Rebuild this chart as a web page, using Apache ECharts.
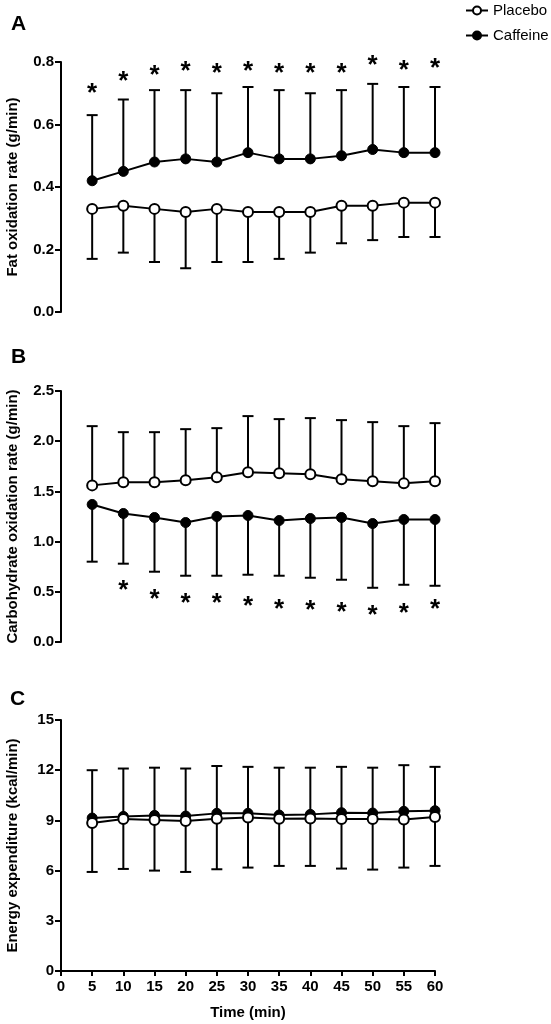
<!DOCTYPE html>
<html>
<head>
<meta charset="utf-8">
<script src="https://cdn.jsdelivr.net/npm/echarts@6/dist/echarts.min.js"></script>
<style>
  html, body { margin: 0; padding: 0; background: #fff; }
  #chart { width: 551px; height: 1024px; }
</style>
</head>
<body>
<div id="chart"></div>
<script>
// time points (min)
var time = [5, 10, 15, 20, 25, 30, 35, 40, 45, 50, 55, 60];

// A - fat oxidation (g/min)
var fatPlacebo      = [0.33, 0.34, 0.33, 0.32, 0.33, 0.32, 0.32, 0.32, 0.34, 0.34, 0.35, 0.35];
var fatPlaceboLow   = [0.17, 0.19, 0.16, 0.14, 0.16, 0.16, 0.17, 0.19, 0.22, 0.23, 0.24, 0.24];
var fatCaffeine     = [0.42, 0.45, 0.48, 0.49, 0.48, 0.51, 0.49, 0.49, 0.50, 0.52, 0.51, 0.51];
var fatCaffeineHigh = [0.63, 0.68, 0.71, 0.71, 0.70, 0.72, 0.71, 0.70, 0.71, 0.73, 0.72, 0.72];
var fatStar         = [0.71, 0.75, 0.77, 0.78, 0.775, 0.78, 0.775, 0.775, 0.775, 0.80, 0.785, 0.79];

// B - carbohydrate oxidation (g/min)
var choPlacebo      = [1.56, 1.59, 1.59, 1.61, 1.64, 1.69, 1.68, 1.67, 1.62, 1.60, 1.58, 1.60];
var choPlaceboHigh  = [2.15, 2.09, 2.09, 2.12, 2.13, 2.25, 2.22, 2.23, 2.21, 2.19, 2.15, 2.18];
var choCaffeine     = [1.37, 1.28, 1.24, 1.19, 1.25, 1.26, 1.21, 1.23, 1.24, 1.18, 1.22, 1.22];
var choCaffeineLow  = [0.80, 0.78, 0.70, 0.66, 0.66, 0.67, 0.66, 0.64, 0.62, 0.54, 0.57, 0.56];
var choStar         = [null, 0.55, 0.46, 0.42, 0.42, 0.39, 0.36, 0.35, 0.33, 0.30, 0.32, 0.36];

// C - energy expenditure (kcal/min)
var eePlacebo       = [8.84, 9.08, 9.02, 8.96, 9.10, 9.18, 9.10, 9.12, 9.08, 9.08, 9.06, 9.20];
var eePlaceboLow    = [5.92, 6.10, 6.00, 5.92, 6.08, 6.18, 6.28, 6.28, 6.12, 6.06, 6.18, 6.28];
var eeCaffeine      = [9.14, 9.24, 9.30, 9.26, 9.42, 9.42, 9.32, 9.36, 9.46, 9.44, 9.54, 9.58];
var eeCaffeineHigh  = [12.0, 12.1, 12.15, 12.1, 12.25, 12.2, 12.15, 12.15, 12.2, 12.15, 12.3, 12.2];

var font = "'Liberation Sans', Arial, Helvetica, sans-serif";
var chart = echarts.init(document.getElementById('chart'));

function pairs(ys) {
    return time.map(function (t, i) { return [t, ys[i]]; });
}

// error bar: line from mean to end plus a cap
function errorBars(idx, mean, end) {
    return {
        type: 'custom',
        xAxisIndex: idx,
        yAxisIndex: idx,
        z: 1,
        silent: true,
        data: time.map(function (t, i) { return [t, mean[i], end[i]]; }),
        renderItem: function (params, api) {
            var p0 = api.coord([api.value(0), api.value(1)]);
            var p1 = api.coord([api.value(0), api.value(2)]);
            var style = { stroke: '#000', lineWidth: 2 };
            return {
                type: 'group',
                children: [
                    { type: 'line', shape: { x1: p0[0], y1: p0[1], x2: p1[0], y2: p1[1] }, style: style },
                    { type: 'line', shape: { x1: p1[0] - 5.5, y1: p1[1], x2: p1[0] + 5.5, y2: p1[1] }, style: style }
                ]
            };
        }
    };
}

function stars(idx, ys) {
    return {
        type: 'custom',
        xAxisIndex: idx,
        yAxisIndex: idx,
        silent: true,
        data: time.map(function (t, i) { return ys[i] == null ? null : [t, ys[i]]; }).filter(Boolean),
        renderItem: function (params, api) {
            var p = api.coord([api.value(0), api.value(1)]);
            return {
                type: 'text',
                x: p[0],
                y: p[1] + 4,
                style: {
                    text: '*',
                    fill: '#000',
                    font: 'bold 26px ' + font,
                    textAlign: 'center',
                    textVerticalAlign: 'middle'
                }
            };
        }
    };
}

function lineSeries(idx, name, ys, hollow, z) {
    return {
        type: 'line',
        name: name,
        xAxisIndex: idx,
        yAxisIndex: idx,
        data: pairs(ys),
        z: z,
        symbol: 'circle',
        symbolSize: 10,
        lineStyle: { color: '#000', width: 2 },
        itemStyle: hollow ? { color: '#fff', borderColor: '#000', borderWidth: 2 }
                          : { color: '#000', borderColor: '#000', borderWidth: 1 },
        emphasis: { disabled: true }
    };
}

var grids = [
    { left: 61, right: 116, top: 62, height: 250, outerBoundsMode: 'none' },
    { left: 61, right: 116, top: 391, height: 251, outerBoundsMode: 'none' },
    { left: 61, right: 116, top: 720, height: 251, outerBoundsMode: 'none' }
];

function xAxis(idx, show) {
    return {
        type: 'value', gridIndex: idx, min: 0, max: 60, interval: 5,
        splitLine: { show: false },
        axisLine: { show: show, onZero: false, lineStyle: { color: '#000', width: 2 } },
        axisTick: { show: show, length: 5, lineStyle: { color: '#000', width: 2 } },
        axisLabel: { show: show, margin: 8, color: '#000', fontSize: 15, fontWeight: 'bold', fontFamily: font },
        name: show ? 'Time (min)' : '',
        nameLocation: 'middle',
        nameGap: 34,
        nameTextStyle: { color: '#000', fontSize: 15, fontWeight: 'bold', fontFamily: font }
    };
}

function yAxis(idx, max, interval, name, digits) {
    return {
        type: 'value', gridIndex: idx, min: 0, max: max, interval: interval,
        splitLine: { show: false },
        axisLine: { show: true, lineStyle: { color: '#000', width: 2 } },
        axisTick: { show: true, length: 6, lineStyle: { color: '#000', width: 2 } },
        axisLabel: {
            margin: 7, color: '#000', fontSize: 15, fontWeight: 'bold', fontFamily: font,
            formatter: function (v) { return v.toFixed(digits); }
        },
        name: name,
        nameLocation: 'middle',
        nameRotate: 90,
        nameGap: 41,
        nameTextStyle: { color: '#000', fontSize: 15, fontWeight: 'bold', fontFamily: font }
    };
}

var option = {
    backgroundColor: '#fff',
    animation: false,
    title: [
        { text: 'A', left: 6, top: 9, textStyle: { fontSize: 21, fontWeight: 'bold', fontFamily: font, color: '#000' } },
        { text: 'B', left: 6, top: 342, textStyle: { fontSize: 21, fontWeight: 'bold', fontFamily: font, color: '#000' } },
        { text: 'C', left: 5, top: 684, textStyle: { fontSize: 21, fontWeight: 'bold', fontFamily: font, color: '#000' } }
    ],
    legend: {
        orient: 'vertical',
        left: 460,
        top: -2,
        itemWidth: 22,
        itemHeight: 10,
        itemGap: 10,
        data: ['Placebo', 'Caffeine'],
        textStyle: { color: '#000', fontSize: 15, fontFamily: font },
        selectedMode: false
    },
    grid: grids,
    xAxis: [xAxis(0, false), xAxis(1, false), xAxis(2, true)],
    yAxis: [
        yAxis(0, 0.8, 0.2, 'Fat oxidation rate (g/min)', 1),
        yAxis(1, 2.5, 0.5, 'Carbohydrate oxidation rate (g/min)', 1),
        yAxis(2, 15, 3, 'Energy expenditure (kcal/min)', 0)
    ],
    series: [
        errorBars(0, fatPlacebo, fatPlaceboLow),
        errorBars(0, fatCaffeine, fatCaffeineHigh),
        lineSeries(0, 'Placebo', fatPlacebo, true, 3),
        lineSeries(0, 'Caffeine', fatCaffeine, false, 3),
        stars(0, fatStar),

        errorBars(1, choPlacebo, choPlaceboHigh),
        errorBars(1, choCaffeine, choCaffeineLow),
        lineSeries(1, 'Placebo', choPlacebo, true, 3),
        lineSeries(1, 'Caffeine', choCaffeine, false, 3),
        stars(1, choStar),

        errorBars(2, eePlacebo, eePlaceboLow),
        errorBars(2, eeCaffeine, eeCaffeineHigh),
        lineSeries(2, 'Caffeine', eeCaffeine, false, 3),
        lineSeries(2, 'Placebo', eePlacebo, true, 4)
    ]
};

chart.setOption(option);
</script>
</body>
</html>
